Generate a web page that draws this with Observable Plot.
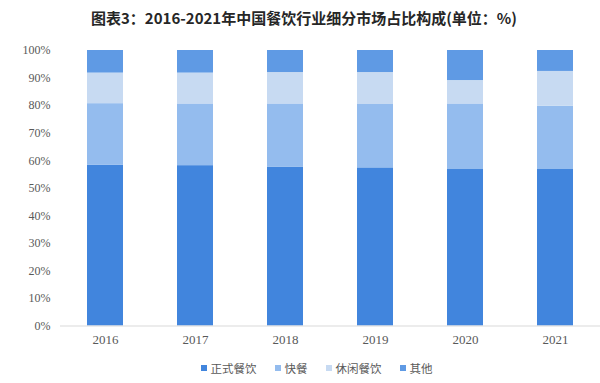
<!DOCTYPE html>
<html>
<head>
<meta charset="utf-8">
<script src="https://cdn.jsdelivr.net/npm/d3@7"></script>
<script src="https://cdn.jsdelivr.net/npm/@observablehq/plot@0.6"></script>
<style>
  body { margin: 0; background: #fff; width: 600px; height: 383px; overflow: hidden; }
  #title { height: 35px; line-height: 35px; text-align: center; padding-left: 8px; font-family: "Noto Sans CJK SC", sans-serif; font-weight: bold; font-size: 15px; color: #262626; }
  #legend { display: flex; justify-content: center; align-items: center; height: 26px; padding-left: 33px; font-family: "Noto Sans CJK SC", sans-serif; font-size: 11.5px; color: #595959; }
  #legend .item { display: flex; align-items: center; margin: 0 9px; }
  #legend .sw { width: 6px; height: 6px; margin-right: 4px; }
  svg { display: block; }
  svg text { font-family: "Liberation Serif", serif; }
</style>
</head>
<body>
<div id="title">图表3：2016-2021年中国餐饮行业细分市场占比构成(单位：%)</div>
<div id="chart"></div>
<div id="legend"></div>
<script>
const years = ["2016", "2017", "2018", "2019", "2020", "2021"];
const seriesNames = ["正式餐饮", "快餐", "休闲餐饮", "其他"];
const formal   = [58.3, 58.2, 57.7, 57.4, 56.8, 56.8];
const fastFood = [22.4, 22.4, 22.9, 23.0, 23.8, 23.0];
const casual   = [11.1, 11.2, 11.4, 11.6, 8.5, 12.6];
const other    = [8.2, 8.2, 8.0, 8.0, 10.9, 7.6];
const yTicks = [0, 10, 20, 30, 40, 50, 60, 70, 80, 90, 100];
const colors = ["#4185dd", "#94bcee", "#c7daf2", "#5f9ae4"];

const seriesValues = [formal, fastFood, casual, other];
const table = [];
years.forEach((y, i) => {
  seriesNames.forEach((s, j) => {
    table.push({ year: y, series: s, value: seriesValues[j][i] });
  });
});

const chart = Plot.plot({
  width: 600,
  height: 320,
  marginTop: 15,
  marginBottom: 29.5,
  marginLeft: 60,
  marginRight: 0,
  style: { fontFamily: "'Liberation Serif', serif", color: "#595959", background: "#fff" },
  x: { domain: years, paddingInner: 0.6, paddingOuter: 0.3, label: null },
  y: { domain: [0, 100], label: null },
  color: { domain: seriesNames, range: colors },
  marks: [
    Plot.barY(table, { x: "year", y: "value", fill: "series", order: seriesNames }),
    Plot.ruleY([0], { stroke: "#d9d9d9", strokeWidth: 1 }),
    Plot.axisY({ ticks: yTicks, tickFormat: d => d + "%", tickSize: 0, tickPadding: 10, fontSize: 12, label: null }),
    Plot.axisX({ tickSize: 0, tickPadding: 9, fontSize: 13, label: null })
  ]
});
document.getElementById("chart").appendChild(chart);

const legend = document.getElementById("legend");
seriesNames.forEach((s, j) => {
  const item = document.createElement("div");
  item.className = "item";
  const sw = document.createElement("span");
  sw.className = "sw";
  sw.style.background = colors[j];
  const t = document.createElement("span");
  t.textContent = s;
  item.appendChild(sw);
  item.appendChild(t);
  legend.appendChild(item);
});
</script>
</body>
</html>
